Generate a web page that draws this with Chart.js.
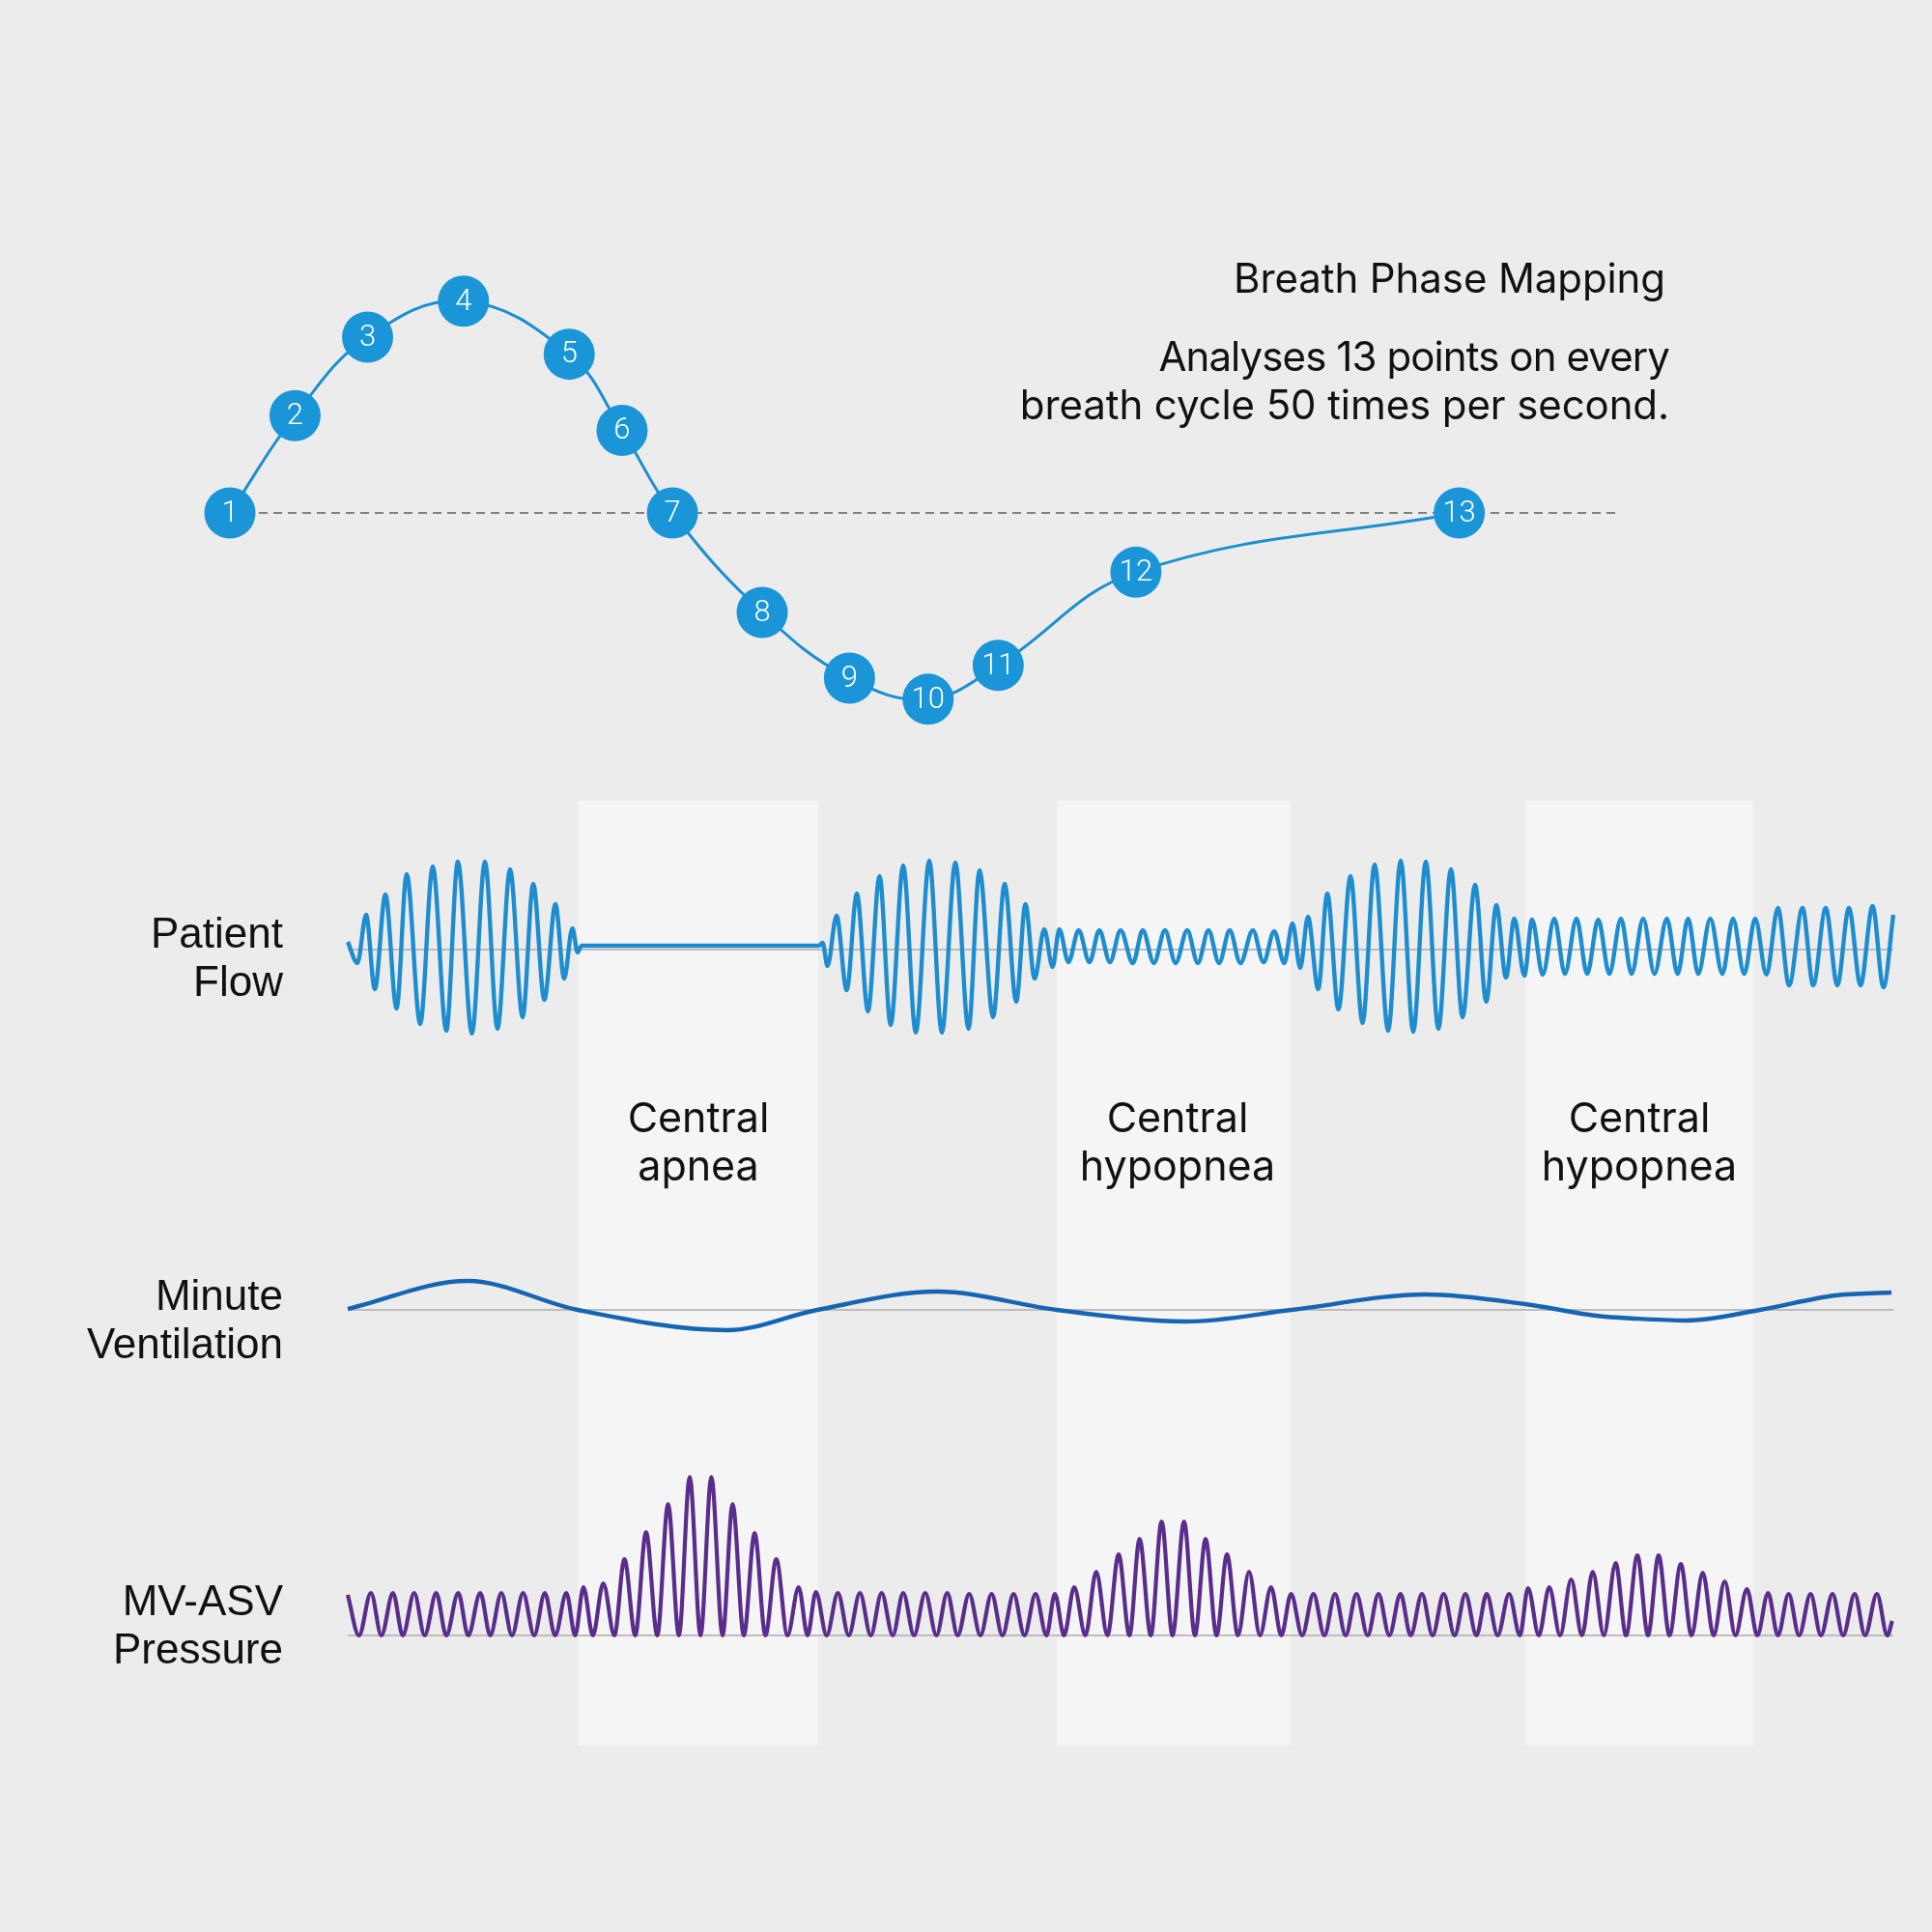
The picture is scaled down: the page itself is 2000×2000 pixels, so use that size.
<!DOCTYPE html>
<html>
<head>
<meta charset="utf-8">
<script src="https://cdn.jsdelivr.net/npm/chart.js@4.4.1/dist/chart.umd.min.js"></script>
<style>
  html, body { margin:0; padding:0; background:#ececec; }
  #wrap { position:relative; width:2000px; height:2000px; background:#ececec; overflow:hidden; }
  canvas { position:absolute; left:0; }
  .txt { position:absolute; white-space:nowrap; color:#111; }
  .head { font-family:Inter, "Noto Sans", sans-serif; font-size:42px; line-height:50px; text-align:right; right:272px; letter-spacing:-0.1px; }
  .side { font-family:"Liberation Sans", Arial, sans-serif; font-size:44px; line-height:50px; text-align:right; right:1707px; }
  .band { font-family:Inter, "Noto Sans", sans-serif; font-size:43px; line-height:50px; text-align:center; width:400px; }
</style>
</head>
<body>
<div id="wrap">
  <canvas id="phase" width="2000" height="800" style="top:0;width:2000px;height:800px"></canvas>
  <canvas id="waves" width="2000" height="1200" style="top:800px;width:2000px;height:1200px"></canvas>

  <div class="txt head" style="top:263px;right:276px">Breath Phase Mapping</div>
  <div class="txt head" style="top:344px"><span style="letter-spacing:-0.9px">Analyses 13 points on every</span><br>breath cycle 50 times per second.</div>

  <div class="txt side" style="top:941px">Patient<br>Flow</div>
  <div class="txt side" style="top:1316px">Minute<br>Ventilation</div>
  <div class="txt side" style="top:1632px">MV-ASV<br>Pressure</div>

  <div class="txt band" style="left:523px;top:1131px">Central<br>apnea</div>
  <div class="txt band" style="left:1019px;top:1131px">Central<br>hypopnea</div>
  <div class="txt band" style="left:1497px;top:1131px">Central<br>hypopnea</div>
</div>
<script>
// ---------- Breath phase mapping (top) ----------
const phaseLabels = ['1','2','3','4','5','6','7','8','9','10','11','12','13'];
const phaseX = [0, 5.3, 11.2, 19.0, 27.6, 31.9, 36.0, 43.3, 50.4, 56.8, 62.5, 73.7, 100];   // % of breath cycle
const phaseY = [0, 0.46, 0.83, 1.0, 0.75, 0.39, 0, -0.47, -0.78, -0.88, -0.72, -0.28, 0];   // normalised flow
const phaseLineX = [0, 113];

// ---------- Waveforms (bottom), time in samples ----------
const flowT = [0,10,19,28,39,50.5,61,75,88,102,114,128.5,142,155,168,181,192,203.5,215,224,232.5,238,242,487.5,491.6,496.6,506,516.5,527,538.5,550.5,562,575,588,602,615,629,642.6,654,668,680,692,701.5,711,721,729.6,736.6,746,756.6,767.8,778,789,800,812.7,823,834.5,846,857,869,880,891,902,913,924,937,948,959,969.5,978,986,994,1004.6,1014,1025.6,1038,1050.5,1063,1077,1090,1103,1116,1129,1142,1154,1167,1178.6,1189,1199,1207.6,1218,1226,1237,1249,1260,1272,1283,1294.5,1306,1318,1329,1341,1352.7,1365.5,1376.7,1387.5,1398,1410.5,1423,1434,1445.6,1457,1468.6,1480.5,1492,1506,1517,1530,1542,1554,1566,1578.5,1589.7,1600];
const flowV = [8,-14,36,-41,57,-61,78,-77,86,-84,91,-87,91,-82,83,-70,68,-52,47,-30,22,-3,4,4,7,-17,35,-42,58,-64,76,-78,87,-86,92,-86,90,-82,82,-70,68,-54,47,-30,21,-18,21,-13,20,-13,20,-13,20,-14,20,-14,20,-14,20,-14,20,-14,20,-14,20,-13,19,-14,27,-19,34,-41,58,-62,76,-76,88,-84,92,-85,91,-82,83,-70,67,-54,46,-29,32,-27,31,-26,32,-25,32,-25,31,-25,32,-25,32,-25,32,-25,32,-25,32,-25,32,-25,32,-26,43,-37,43,-37,43,-37,43,-37,45,-39,36];

const mvT = [0,124,238,393,486,610,734,868,977,1116,1219,1292,1333,1385,1462,1540,1598];
const mvV = [1,30,0,-21,0,19,0,-12,0,16,6,-6,-9,-11,0,15,18];

const presT = [0,11.6,24,34.8,46.8,57,68.8,79.6,91.6,102,114.4,124.7,137.2,147.5,159,170,181.5,193,204,214.7,226.3,235.4,244,253.7,264.5,276,286.4,297.6,308.8,320.4,331.6,342.8,354,365.2,376.4,388,398.4,410,421.2,432.4,443.6,455.2,466.8,476,484.6,495.8,507.4,518.6,530.2,541.4,552.6,564.2,575,586.2,597.8,609.4,620.6,631.4,643.3,654.9,666.5,677.7,689.3,700.5,712,723.3,732,741.5,752,763.6,774.8,786.4,798,809.2,819.7,831.3,842.5,853.8,865.7,877,888,899.4,910.2,921.5,933,944.3,955.8,966.4,976.5,988,999.7,1011,1022,1033,1044.2,1055.8,1067,1078.2,1089.8,1100.3,1112,1123,1134.5,1145.8,1157,1168.4,1179,1190.4,1202.2,1213.4,1221.8,1233,1243.8,1255,1266.5,1277.6,1288.8,1300.3,1312.5,1323.3,1335,1346,1357,1368.2,1380,1391,1402.7,1413.9,1425.4,1436.5,1448.4,1459.2,1470.3,1480.5,1491.6,1502.4,1514.3,1525,1537,1548,1560,1570.7,1583,1593.7,1598.8];
const presV = [42,0,44,0,44,0,44,0,44,0,44,0,44,0,44,0,44,0,44,0,44,0,50,0,54,0,79,0,107,0,136,0,164,0,164,0,136,0,106,0,79,0,50,0,45,0,44,0,44,0,44,0,44,0,44,0,44,0,43,0,43,0,43,0,43,0,43,0,50,0,66,0,84,0,100,0,118,0,118,0,100,0,84,0,66,0,50,0,43,0,43,0,43,0,43,0,43,0,43,0,43,0,43,0,43,0,43,0,43,0,49,0,50,0,58,0,66,0,75,0,83,0,83,0,74,0,65,0,56,0,48,0,44,0,43,0,43,0,43,0,43,0,43,0,15];

const bandStart = [238, 734, 1219];
const bandEnd   = [487, 976, 1455];
const timeRange = [0, 1600];

function zip(xs, ys) {
  const n = Math.min(xs.length, ys.length);
  const out = [];
  for (let i = 0; i < n; i++) out.push({x: xs[i], y: ys[i]});
  return out;
}

Chart.defaults.animation = false;
Chart.defaults.responsive = false;
Chart.defaults.devicePixelRatio = 1;
Chart.defaults.plugins.legend.display = false;
Chart.defaults.plugins.tooltip.enabled = false;

const circleLabels = {
  id: 'circleLabels',
  afterDatasetsDraw(chart) {
    const meta = chart.getDatasetMeta(1);
    const ctx = chart.ctx;
    ctx.save();
    ctx.font = '300 31px Roboto, "Liberation Sans", sans-serif';
    ctx.fillStyle = '#ffffff';
    ctx.textAlign = 'center';
    ctx.textBaseline = 'middle';
    meta.data.forEach((pt, i) => ctx.fillText(phaseLabels[i], pt.x, pt.y + 1));
    ctx.restore();
  }
};

new Chart(document.getElementById('phase'), {
  type: 'line',
  data: {
    datasets: [
      {
        data: zip(phaseLineX, [0, 0]),
        borderColor: '#5e5e5e', borderWidth: 1.5, borderDash: [9, 6],
        pointRadius: 0, order: 2, clip: false
      },
      {
        data: zip(phaseX, phaseY),
        borderColor: '#1b8fd0', borderWidth: 3, tension: 0.4,
        pointRadius: 26.5, pointBackgroundColor: '#1a95d7', pointBorderWidth: 0,
        order: 1, clip: false
      }
    ]
  },
  options: {
    layout: { autoPadding: false, padding: { left: 238, right: 324, top: 268, bottom: 6 } },
    scales: {
      x: { type: 'linear', min: 0, max: 113, display: false },
      y: { type: 'linear', min: -1.2, max: 1.2, display: false }
    }
  },
  plugins: [circleLabels]
});

const bands = {
  id: 'bands',
  beforeDatasetsDraw(chart) {
    const { ctx, chartArea, scales } = chart;
    ctx.save();
    ctx.fillStyle = '#f5f5f5';
    bandStart.forEach((s, i) => {
      const x0 = scales.x.getPixelForValue(s);
      const x1 = scales.x.getPixelForValue(bandEnd[i]);
      ctx.fillRect(x0, chartArea.top, x1 - x0, chartArea.bottom - chartArea.top);
    });
    ctx.restore();
  }
};

const base = (axis) => ({
  data: zip(timeRange, [0, 0]), yAxisID: axis,
  borderColor: '#bdbdbd', borderWidth: 2, pointRadius: 0, order: 5, clip: false
});

new Chart(document.getElementById('waves'), {
  type: 'line',
  data: {
    datasets: [
      base('yFlow'), base('yMV'), base('yP'),
      { data: zip(flowT, flowV), yAxisID: 'yFlow', borderColor: '#1e8dcf', borderWidth: 4.4,
        cubicInterpolationMode: 'monotone', pointRadius: 0, order: 1, clip: false },
      { data: zip(mvT, mvV), yAxisID: 'yMV', borderColor: '#1565b2', borderWidth: 4.4,
        cubicInterpolationMode: 'monotone', pointRadius: 0, order: 1, clip: false },
      { data: zip(presT, presV), yAxisID: 'yP', borderColor: '#5a2d8c', borderWidth: 4.2,
        cubicInterpolationMode: 'monotone', pointRadius: 0, order: 1, clip: false }
    ]
  },
  options: {
    layout: { autoPadding: false, padding: { left: 360, right: 40, top: 29, bottom: 193 } },
    scales: {
      x: { type: 'linear', min: 0, max: 1600, display: false },
      yFlow: { type: 'linear', min: -824, max: 154, display: false },
      yMV: { type: 'linear', min: -451, max: 527, display: false },
      yP: { type: 'linear', min: -114, max: 864, display: false }
    }
  },
  plugins: [bands]
});
</script>
</body>
</html>
